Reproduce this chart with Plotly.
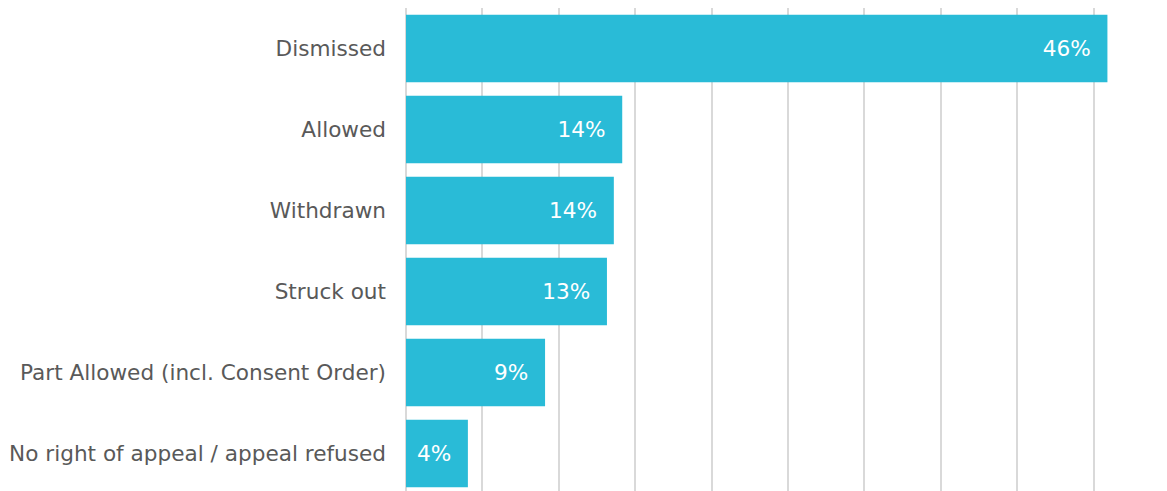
import plotly.graph_objects as go

categories = [
    "Dismissed",
    "Allowed",
    "Withdrawn",
    "Struck out",
    "Part Allowed (incl. Consent Order)",
    "No right of appeal / appeal refused",
]
values = [45.9, 14.15, 13.6, 13.15, 9.1, 4.05]
labels = ["46%", "14%", "14%", "13%", "9%", "4%"]

BAR_COLOR = "#29BBD7"
TEXT_GRAY = "#595959"
FONT = "DejaVu Sans"

fig = go.Figure(
    go.Bar(
        x=values,
        y=categories,
        orientation="h",
        marker=dict(color=BAR_COLOR, line=dict(width=0)),
        text=[lab + "\u00a0\u00a0" for lab in labels],
        textposition="inside",
        insidetextanchor="end",
        textfont=dict(family=FONT, size=21.6, color="white"),
        textangle=0,
        hoverinfo="skip",
    )
)

fig.update_layout(
    width=1159,
    height=483,
    margin=dict(l=398, r=55, t=0, b=0),
    paper_bgcolor="white",
    plot_bgcolor="white",
    bargap=0.165,
    showlegend=False,
    font=dict(family=FONT, size=21.6, color=TEXT_GRAY),
)

fig.update_xaxes(
    range=[0, 46.2],
    dtick=5,
    tick0=0,
    showgrid=True,
    gridcolor="#d9d9d9",
    gridwidth=2,
    zeroline=True,
    zerolinecolor="#d9d9d9",
    zerolinewidth=2,
    showticklabels=False,
    showline=False,
    ticks="",
    fixedrange=True,
)

fig.update_yaxes(
    type="category",
    categoryorder="array",
    categoryarray=categories,
    range=[5.463, -0.5],
    showgrid=False,
    zeroline=False,
    showline=False,
    ticks="",
    ticklabelstandoff=19,
    tickfont=dict(family=FONT, size=21.6, color=TEXT_GRAY),
    automargin=False,
    fixedrange=True,
)

fig.write_html("out.html")
